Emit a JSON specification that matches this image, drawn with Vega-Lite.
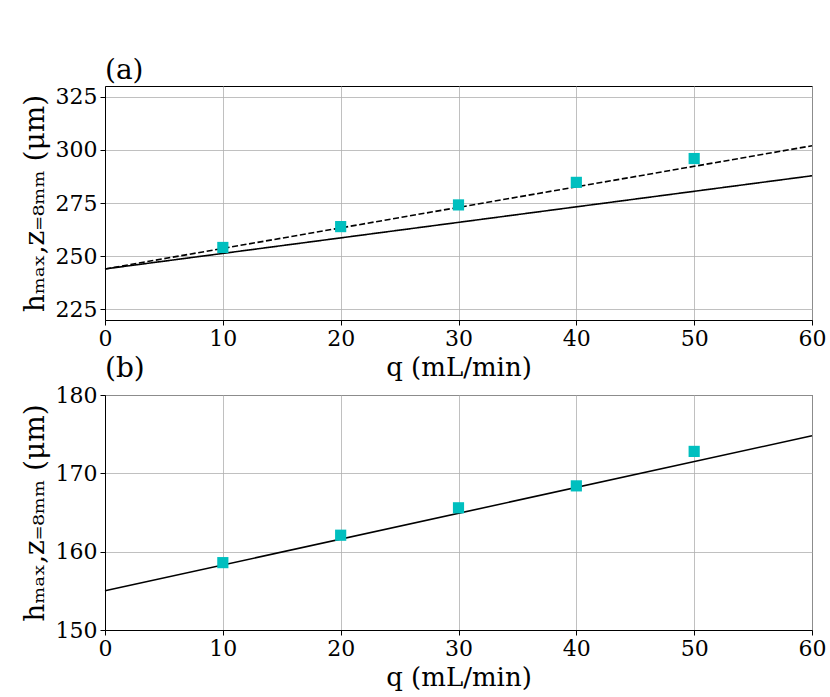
{
  "$schema": "https://vega.github.io/schema/vega-lite/v6.json",
  "background": "white",
  "padding": {"left": 20, "top": 56, "right": 14, "bottom": 0},
  "datasets": {
    "a_pts": [
      {"q": 10, "h": 254.1},
      {"q": 20, "h": 263.9},
      {"q": 30, "h": 274.1},
      {"q": 40, "h": 284.7},
      {"q": 50, "h": 295.9}
    ],
    "a_lines": [
      {"q": 0, "h": 244.0, "fit": "solid"},
      {"q": 60, "h": 287.8, "fit": "solid"},
      {"q": 0, "h": 244.0, "fit": "dashed"},
      {"q": 60, "h": 301.9, "fit": "dashed"}
    ],
    "b_pts": [
      {"q": 10, "h": 158.6},
      {"q": 20, "h": 162.1},
      {"q": 30, "h": 165.6},
      {"q": 40, "h": 168.4},
      {"q": 50, "h": 172.8}
    ],
    "b_lines": [
      {"q": 0, "h": 155.0, "fit": "solid"},
      {"q": 60, "h": 174.8, "fit": "solid"}
    ]
  },
  "bounds": "flush",
  "spacing": 75,
  "vconcat": [
    {
      "width": 707,
      "height": 234,
      "title": {"text": "(a)", "anchor": "start", "frame": "group", "offset": 1},
      "layer": [
        {
          "data": {"name": "a_lines"},
          "mark": {"type": "line", "color": "black", "strokeWidth": 1.6},
          "encoding": {
            "x": {"field": "q", "type": "quantitative", "scale": {"domain": [0, 60]}},
            "y": {"field": "h", "type": "quantitative", "scale": {"domain": [225, 325]}},
            "detail": {"field": "fit"},
            "strokeDash": {
              "field": "fit",
              "type": "nominal",
              "scale": {"domain": ["solid", "dashed"], "range": [[1, 0], [6, 2.6]]},
              "legend": null
            }
          }
        },
        {
          "data": {"name": "a_pts"},
          "mark": {"type": "square", "color": "#00bfbf", "opacity": 1, "filled": true, "size": 125},
          "encoding": {
            "x": {
              "field": "q",
              "type": "quantitative",
              "title": "q (mL/min)",
              "axis": {"values": [0, 10, 20, 30, 40, 50, 60]}
            },
            "y": {
              "field": "h",
              "type": "quantitative",
              "title": "hₘₐₓ,z₌₈ₘₘ (μm)",
              "axis": {"values": [225, 250, 275, 300, 325]}
            }
          }
        }
      ]
    },
    {
      "width": 707,
      "height": 235,
      "title": {"text": "(b)", "anchor": "start", "frame": "group", "offset": 1},
      "layer": [
        {
          "data": {"name": "b_lines"},
          "mark": {"type": "line", "color": "black", "strokeWidth": 1.6},
          "encoding": {
            "x": {"field": "q", "type": "quantitative", "scale": {"domain": [0, 60]}},
            "y": {"field": "h", "type": "quantitative", "scale": {"domain": [150, 180]}}
          }
        },
        {
          "data": {"name": "b_pts"},
          "mark": {"type": "square", "color": "#00bfbf", "opacity": 1, "filled": true, "size": 125},
          "encoding": {
            "x": {
              "field": "q",
              "type": "quantitative",
              "title": "q (mL/min)",
              "axis": {"values": [0, 10, 20, 30, 40, 50, 60]}
            },
            "y": {
              "field": "h",
              "type": "quantitative",
              "title": "hₘₐₓ,z₌₈ₘₘ (μm)",
              "axis": {"values": [150, 160, 170, 180]}
            }
          }
        }
      ]
    }
  ],
  "config": {
    "view": {"stroke": "black", "strokeWidth": 1},
    "title": {"font": "DejaVu Serif", "fontSize": 28, "fontWeight": "normal", "color": "black"},
    "axis": {
      "labelFont": "DejaVu Serif",
      "labelFontSize": 22,
      "labelColor": "black",
      "titleFont": "DejaVu Serif",
      "titleFontSize": 26,
      "titleFontWeight": "normal",
      "titleColor": "black",
      "domainColor": "black",
      "tickColor": "black",
      "tickSize": 5,
      "gridColor": "#b0b0b0",
      "gridWidth": 0.8,
      "gridOpacity": 1,
      "labelFlush": false,
      "labelOverlap": false
    },
    "axisX": {"titlePadding": 5, "labelPadding": 3},
    "axisY": {"titlePadding": 6, "labelPadding": 3, "titleFontSize": 28}
  }
}
